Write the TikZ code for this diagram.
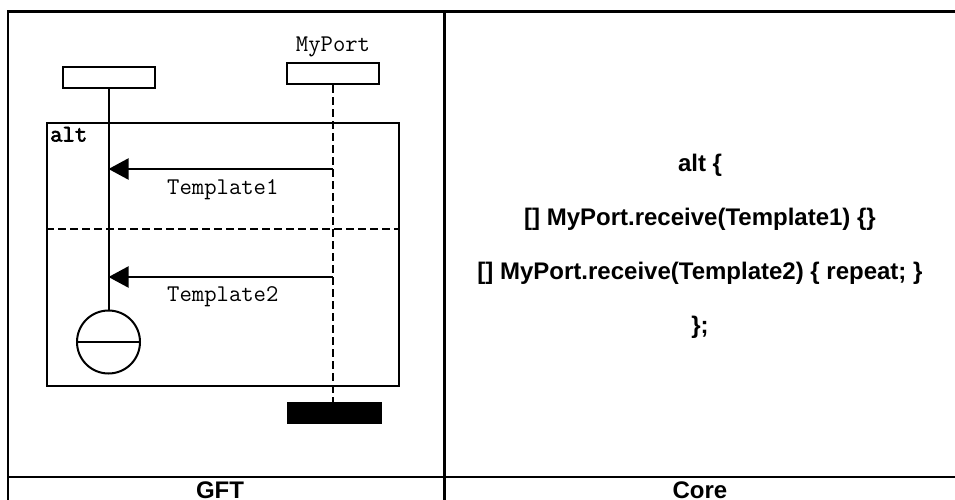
\documentclass[tikz,border=0pt]{standalone}
\usepackage{fontspec}
\setmainfont{Liberation Sans}
\newfontfamily\monof{Latin Modern Mono}
\newfontfamily\monobf{Latin Modern Mono}[FakeBold=2.5]
\usetikzlibrary{arrows.meta}
\begin{document}
\begin{tikzpicture}[x=1pt,y=-1pt,
  tbl/.style={line width=2.5pt},
  dg/.style={line width=2pt},
  instbox/.style={draw, line width=2pt, minimum width=92pt, minimum height=21pt, inner sep=0pt},
  stopbox/.style={fill=black, draw=black, minimum width=94pt, minimum height=21pt, inner sep=0pt},
  mono/.style={font=\monof\fontsize{24}{28}\selectfont, inner sep=0pt},
  monob/.style={font=\monobf\fontsize{24}{28}\selectfont, inner sep=0pt},
  core/.style={font=\fontsize{24}{28}\selectfont\bfseries, inner sep=0pt, anchor=base},
  msg/.style={line width=2pt, -{Triangle[length=20pt,width=21pt]}},
  dashline/.style={line width=2pt, dash pattern=on 8pt off 4pt},
]
\useasboundingbox (0,0) rectangle (955,500);
\clip (0,0) rectangle (955,500);
% table
\coordinate (ttl) at (8,11.5);
\coordinate (ttr) at (960,11.5);
\coordinate (tbl) at (8,505);
\coordinate (dtop) at (444.5,11.5);
\coordinate (dbot) at (444.5,505);
\coordinate (hl) at (8,477);
\coordinate (hr) at (960,477);
\draw[tbl] (ttr) -- (ttl) -- (tbl);
\draw[tbl] (dtop) -- (dbot);
\draw[tbl] (hl) -- (hr);
\node[core] (gft) at (220,498) {GFT};
\node[core] (corelbl) at (700,498) {Core};
% GFT diagram
\node[instbox] (inst1) at (108.5,77.5) {};
\node[instbox] (port) at (333,73.7) {};
\node[mono, anchor=base] (portlbl) at (333,52) {MyPort};
\node[draw, dg, anchor=north west, minimum width=352pt, minimum height=263pt, inner sep=0pt] (alt) at (46,122) {};
\node[monob, anchor=base west] (altlbl) at (50,141.5) {alt};
\node[circle, draw, dg, minimum size=63pt, inner sep=0pt] (circ) at (108.5,342) {};
\draw[dg] (circ.west) -- (circ.east);
\draw[dg] (inst1.south) -- (circ.north);
\node[stopbox] (stop) at (334,412.5) {};
\draw[dashline] (port.south) -- (port.south |- stop.north);
\coordinate (sepl) at (46,229);
\coordinate (sepr) at (398,229);
\draw[dashline] (sepl) -- (sepr);
\coordinate (m1s) at (333,169);
\coordinate (m2s) at (333,277);
\draw[msg] (m1s) -- (inst1.south |- m1s);
\draw[msg] (m2s) -- (inst1.south |- m2s);
\node[mono, anchor=base west] (t1) at (167,194) {Template1};
\node[mono, anchor=base west] (t2) at (167,301.5) {Template2};
% Core text
\node[core] (c1) at (700,171) {alt \{};
\node[core] (c2) at (700,225) {[] MyPort.receive(Template1) \{\}};
\node[core] (c3) at (700,279) {[] MyPort.receive(Template2) \{ repeat; \}};
\node[core] (c4) at (700,333) {\};};
\end{tikzpicture}
\end{document}
